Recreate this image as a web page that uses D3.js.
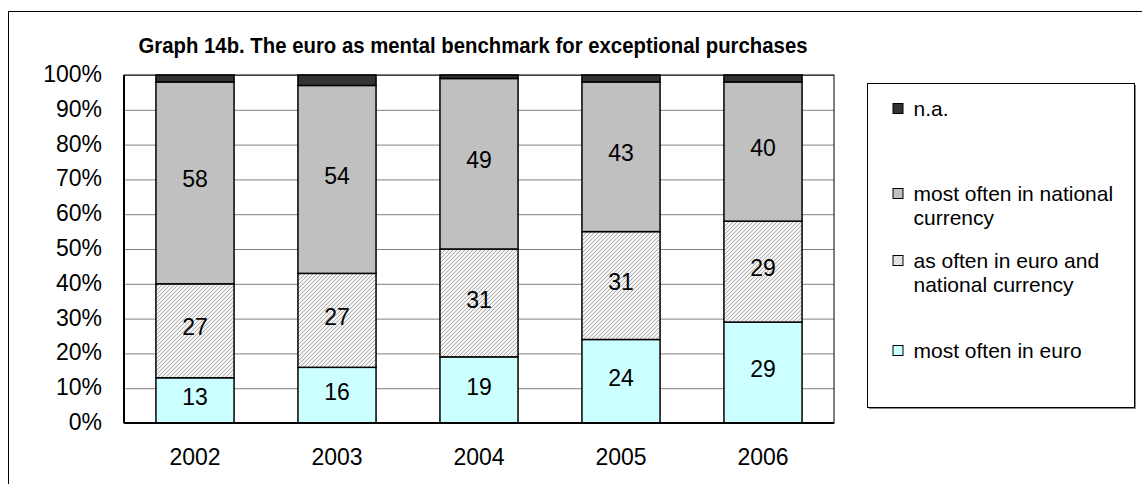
<!DOCTYPE html>
<html>
<head>
<meta charset="utf-8">
<script src="https://cdn.jsdelivr.net/npm/d3@7"></script>
<style>
  body { margin: 0; background: #fff; }
  text { font-family: "Liberation Sans", Arial, sans-serif; }
</style>
</head>
<body>
<div id="chart"></div>
<script>
// data
const years = ['2002', '2003', '2004', '2005', '2006']
const mostEuro = [13, 16, 19, 24, 29]
const asOften = [27, 27, 31, 31, 29]
const mostNational = [58, 54, 49, 43, 40]
const na = [2, 3, 1, 2, 2]
const yTicks = [0, 10, 20, 30, 40, 50, 60, 70, 80, 90, 100]

const seriesNames = ['most often in euro', 'as often in euro and national currency', 'most often in national currency', 'n.a.']
const seriesValues = [mostEuro, asOften, mostNational, na]

const W = 1142, H = 484
const margin = { top: 75, left: 124, right: 308, bottom: 61 }
const width = W - margin.left - margin.right
const height = H - margin.top - margin.bottom
const font = '"Liberation Sans", Arial, sans-serif'

const svg = d3.select('#chart').append('svg')
  .attr('width', W)
  .attr('height', H)

const defs = svg.append('defs')
const pat = defs.append('pattern')
  .attr('id', 'hatch')
  .attr('patternUnits', 'userSpaceOnUse')
  .attr('width', 4)
  .attr('height', 4)
pat.append('rect').attr('width', 4).attr('height', 4).attr('fill', '#f4f4f4')
pat.append('path')
  .attr('d', 'M-1,1 l2,-2 M0,4 l4,-4 M3,5 l2,-2')
  .attr('stroke', '#aaaaaa')
  .attr('stroke-width', 1)

const fills = ['#ccffff', 'url(#hatch)', '#c0c0c0', '#333333']

// outer frame
svg.append('rect')
  .attr('x', 8.5).attr('y', 11.5)
  .attr('width', W).attr('height', H)
  .attr('fill', 'none').attr('stroke', '#000').attr('stroke-width', 1)

svg.append('text')
  .attr('x', 473).attr('y', 53)
  .attr('text-anchor', 'middle')
  .attr('font-size', 21.5)
  .attr('font-weight', 'bold')
  .attr('textLength', 669)
  .attr('lengthAdjust', 'spacingAndGlyphs')
  .text('Graph 14b. The euro as mental benchmark for exceptional purchases')

const g = svg.append('g')
  .attr('transform', `translate(${margin.left}, ${margin.top})`)

// scales
const x = d3.scaleBand().domain(years).range([0, width]).paddingInner(0.45).paddingOuter(0.225)
const y = d3.scaleLinear().domain([0, 100]).range([height, 0])

// gridlines
g.append('g')
  .call(d3.axisLeft(y).tickValues(yTicks).tickSize(-width).tickFormat(''))
  .call(s => s.select('.domain').remove())
  .call(s => s.selectAll('line').attr('stroke', '#808080').attr('stroke-width', 1))

g.append('rect')
  .attr('x', 0).attr('y', 0).attr('width', width).attr('height', height)
  .attr('fill', 'none').attr('stroke', '#000').attr('stroke-width', 1)

// y labels
g.append('g')
  .call(d3.axisLeft(y).tickValues(yTicks).tickSize(0).tickPadding(22).tickFormat(d => d + '%'))
  .call(s => s.select('.domain').remove())
  .call(s => s.selectAll('text').attr('font-size', 23).attr('fill', '#000').attr('font-family', font).attr('dy', '0.28em'))

// x labels
g.append('g')
  .attr('transform', `translate(0, ${height})`)
  .call(d3.axisBottom(x).tickSize(0).tickPadding(26))
  .call(s => s.select('.domain').remove())
  .call(s => s.selectAll('text').attr('font-size', 23).attr('fill', '#000').attr('font-family', font))

// stack
const rows = years.map((yr, i) => {
  const r = { year: yr }
  seriesNames.forEach((n, k) => { r[n] = seriesValues[k][i] })
  return r
})
const stacked = d3.stack().keys(seriesNames)(rows)

const layer = g.selectAll('.layer')
  .data(stacked)
  .enter().append('g')
  .attr('fill', (d, i) => fills[i])

layer.selectAll('rect')
  .data(d => d)
  .enter().append('rect')
  .attr('x', d => x(d.data.year))
  .attr('y', d => y(d[1]))
  .attr('width', x.bandwidth())
  .attr('height', d => y(d[0]) - y(d[1]))
  .attr('stroke', '#000')
  .attr('stroke-width', 1.5)

// value labels (not for n.a.)
stacked.slice(0, 3).forEach(s => {
  g.selectAll(null)
    .data(s)
    .enter().append('text')
    .attr('x', d => x(d.data.year) + x.bandwidth() / 2)
    .attr('y', d => (y(d[0]) + y(d[1])) / 2)
    .attr('dy', '0.2em')
    .attr('text-anchor', 'middle')
    .attr('font-size', 23)
    .text(d => d[1] - d[0])
})

// axis lines
g.append('line')
  .attr('x1', 0).attr('x2', width)
  .attr('y1', height).attr('y2', height)
  .attr('stroke', '#000').attr('stroke-width', 2)
g.append('line')
  .attr('x1', 0).attr('x2', 0)
  .attr('y1', 0).attr('y2', height)
  .attr('stroke', '#000').attr('stroke-width', 2)

// legend
const lg = svg.append('g').attr('transform', 'translate(867.5, 83.5)')
lg.append('rect')
  .attr('x', 1.5).attr('y', 1.5).attr('width', 267).attr('height', 324)
  .attr('fill', '#888')
lg.append('rect')
  .attr('width', 267).attr('height', 324)
  .attr('fill', '#fff').attr('stroke', '#000').attr('stroke-width', 1)

const legendItems = [
  { k: 3, lines: ['n.a.'], y: 25 },
  { k: 2, lines: ['most often in national', 'currency'], y: 110 },
  { k: 1, lines: ['as often in euro and', 'national currency'], y: 177 },
  { k: 0, lines: ['most often in euro'], y: 267 }
]
const li = lg.selectAll('.li')
  .data(legendItems)
  .enter().append('g')
  .attr('transform', d => `translate(0, ${d.y})`)
li.append('rect')
  .attr('x', 25.5).attr('y', -5).attr('width', 10).attr('height', 10)
  .attr('fill', d => fills[d.k])
  .attr('stroke', '#000').attr('stroke-width', 1)
li.append('text')
  .attr('x', 46)
  .attr('font-size', 21)
  .selectAll('tspan')
  .data(d => d.lines)
  .enter().append('tspan')
  .attr('x', 46)
  .attr('dy', (d, i) => i === 0 ? '0.35em' : '1.15em')
  .text(d => d)
</script>
</body>
</html>
